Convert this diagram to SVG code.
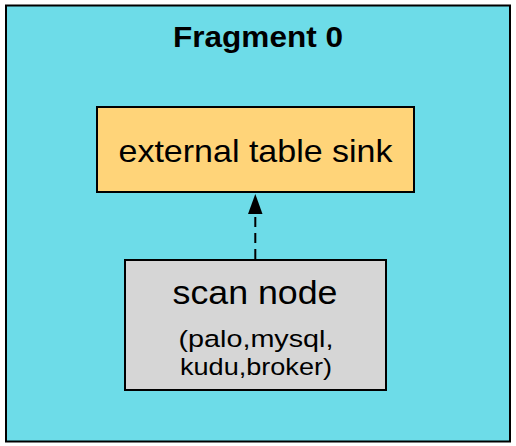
<svg xmlns="http://www.w3.org/2000/svg" width="516" height="446" viewBox="0 0 516 446">
<style>
  .box { stroke: #000; stroke-width: 2; }
  .t { font-family: "Liberation Sans", Arial, Helvetica, sans-serif; fill: #000; text-anchor: middle; }
  .conn { stroke: #000; stroke-width: 2; fill: none; stroke-dasharray: 10 6; }
</style>
<g id="fragment0">
  <rect class="box" x="6" y="5.5" width="504" height="436" fill="#6DDCE8"/>
  <text class="t" x="258" y="47" font-size="30" font-weight="bold" textLength="170" lengthAdjust="spacingAndGlyphs">Fragment 0</text>
</g>
<g id="sink">
  <rect class="box" x="97" y="107" width="317" height="85" fill="#FFD479"/>
  <text class="t" x="255.5" y="162" font-size="32" textLength="274" lengthAdjust="spacingAndGlyphs">external table sink</text>
</g>
<g id="scan">
  <rect class="box" x="125" y="260" width="261" height="130" fill="#D6D6D6"/>
  <text class="t" x="255" y="304" font-size="34" textLength="165" lengthAdjust="spacingAndGlyphs">scan node</text>
  <text class="t" x="256" y="347" font-size="24.5" textLength="155" lengthAdjust="spacingAndGlyphs">(palo,mysql,</text>
  <text class="t" x="256" y="374.5" font-size="24.5" textLength="152" lengthAdjust="spacingAndGlyphs">kudu,broker)</text>
</g>
<g id="connectors">
  <line class="conn" x1="255.3" y1="259" x2="255.3" y2="214"/>
  <path d="M255.3 194 L262.5 214 L248 214 Z" fill="#000"/>
</g>
</svg>
